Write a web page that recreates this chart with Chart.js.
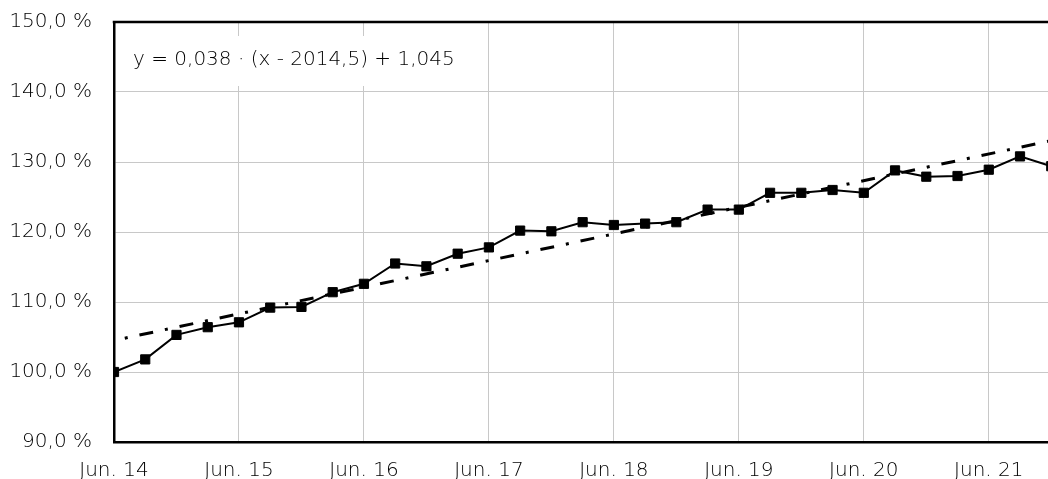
<!DOCTYPE html>
<html>
<head>
<meta charset="utf-8">
<script src="https://cdn.jsdelivr.net/npm/chart.js@4/dist/chart.umd.min.js"></script>
<style>
  html, body { margin: 0; padding: 0; background: #fff; overflow: hidden; }
  #wrap { position: relative; width: 1090px; height: 479px; }
</style>
</head>
<body>
<div id="wrap"><canvas id="c" width="1090" height="479"></canvas></div>
<script>
// ---- data ----
const quarters = [
  '2014-06','2014-09','2014-12','2015-03','2015-06','2015-09','2015-12','2016-03',
  '2016-06','2016-09','2016-12','2017-03','2017-06','2017-09','2017-12','2018-03',
  '2018-06','2018-09','2018-12','2019-03','2019-06','2019-09','2019-12','2020-03',
  '2020-06','2020-09','2020-12','2021-03','2021-06','2021-09','2021-12'
];
const indexValues = [
  100.0, 101.8, 105.3, 106.4, 107.1, 109.2, 109.3, 111.4,
  112.6, 115.5, 115.1, 116.9, 117.8, 120.2, 120.1, 121.4,
  121.0, 121.2, 121.4, 123.2, 123.2, 125.6, 125.6, 126.0,
  125.6, 128.8, 127.9, 128.0, 128.9, 130.8, 129.4
];
const trendQuarters = ['2014-06', '2022-03'];
const trendValues = [104.5, 134.0];
const xTickYears = [2014.5, 2015.5, 2016.5, 2017.5, 2018.5, 2019.5, 2020.5, 2021.5];
const xTickLabels = ['Jun. 14','Jun. 15','Jun. 16','Jun. 17','Jun. 18','Jun. 19','Jun. 20','Jun. 21'];
const yTickValues = [90, 100, 110, 120, 130, 140, 150];
const yTickLabels = ['90,0 %','100,0 %','110,0 %','120,0 %','130,0 %','140,0 %','150,0 %'];
const equationText = 'y = 0,038 \u00B7 (x - 2014,5) + 1,045';

// ---- helpers ----
const toYear = q => { const [y, m] = q.split('-').map(Number); return y + m / 12; };
const FONT = "'DejaVu Sans', 'Liberation Sans', sans-serif";
const WEIGHT = '200';
const TEXT = '#000000';

const mainData = quarters.map((q, i) => ({ x: toYear(q), y: indexValues[i] }));
const trendData = trendQuarters.map((q, i) => ({ x: toYear(q), y: trendValues[i] }));

const framePlugin = {
  id: 'frame',
  beforeDatasetsDraw(chart) {
    const { ctx, chartArea: a } = chart;
    ctx.save();
    // equation box
    ctx.fillStyle = '#ffffff';
    ctx.fillRect(a.left + 3, a.top + 14, 362, 50);
    ctx.fillStyle = TEXT;
    ctx.font = WEIGHT + ' 20px ' + FONT;
    ctx.textBaseline = 'alphabetic';
    ctx.textAlign = 'left';
    ctx.fillText(equationText, 133, a.top + 43);
    // top border
    ctx.strokeStyle = '#000';
    ctx.lineWidth = 2.5;
    ctx.beginPath();
    ctx.moveTo(a.left - 1.25, a.top);
    ctx.lineTo(a.right, a.top);
    ctx.stroke();
    ctx.restore();
  }
};

new Chart(document.getElementById('c'), {
  type: 'scatter',
  data: {
    datasets: [
      {
        label: 'Index',
        data: mainData,
        showLine: true,
        borderColor: '#000',
        backgroundColor: '#000',
        borderWidth: 2,
        pointStyle: 'rect',
        pointRadius: 6.5,
        pointBorderWidth: 1,
        pointBorderColor: '#000',
        pointBackgroundColor: '#000',
        order: 0
      },
      {
        label: 'Trend',
        data: trendData,
        showLine: true,
        borderColor: '#000',
        borderWidth: 3,
        borderDash: [14, 12, 3, 12],
        borderDashOffset: 15,
        borderCapStyle: 'butt',
        pointRadius: 0,
        order: 1
      }
    ]
  },
  options: {
    responsive: false,
    animation: false,
    layout: { padding: { left: 0, right: 0, top: 22, bottom: 0 } },
    plugins: { legend: { display: false }, tooltip: { enabled: false } },
    scales: {
      x: {
        type: 'linear',
        min: 2014.5,
        max: 2022.25,
        afterBuildTicks: s => { s.ticks = xTickYears.map(v => ({ value: v })); },
        afterFit: s => { s.height = 37; s.paddingLeft = 0; s.paddingRight = 0; },
        ticks: {
          autoSkip: false,
          maxRotation: 0,
          padding: 17,
          color: TEXT,
          font: { family: FONT, size: 20, weight: WEIGHT },
          callback: v => { const i = xTickYears.indexOf(v); return i >= 0 ? xTickLabels[i] : ''; }
        },
        grid: { color: '#c8c8c8', lineWidth: 1, drawTicks: false },
        border: { color: '#000', width: 2.5 }
      },
      y: {
        min: 90,
        max: 150,
        afterBuildTicks: s => { s.ticks = yTickValues.map(v => ({ value: v })); },
        afterFit: s => { s.width = 114; s.paddingTop = 0; s.paddingBottom = 0; },
        ticks: {
          padding: 22,
          color: TEXT,
          font: { family: FONT, size: 20, weight: WEIGHT },
          callback: v => { const i = yTickValues.indexOf(v); return i >= 0 ? yTickLabels[i] : ''; }
        },
        grid: { color: '#c8c8c8', lineWidth: 1, drawTicks: false },
        border: { color: '#000', width: 2.5 }
      }
    }
  },
  plugins: [framePlugin]
});
</script>
</body>
</html>
